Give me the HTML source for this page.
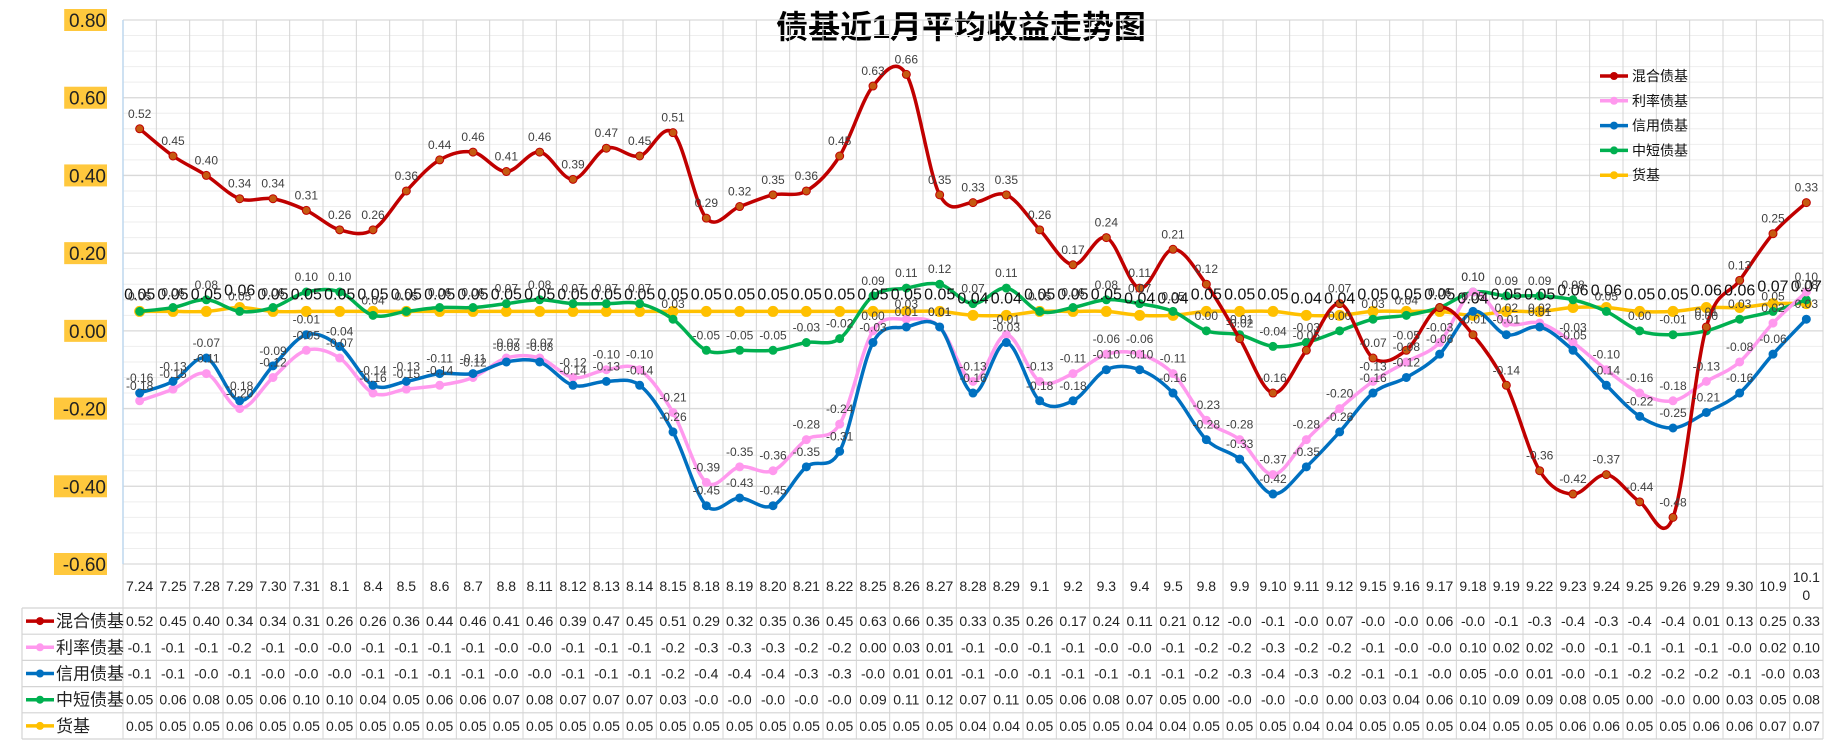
<!DOCTYPE html>
<html><head><meta charset="utf-8">
<style>
html,body{margin:0;padding:0;background:#fff;}
body{width:1838px;height:743px;overflow:hidden;font-family:"Liberation Sans","Noto Sans CJK SC",sans-serif;}
svg{display:block;}
</style></head>
<body>
<svg id="chart" width="1838" height="743" xmlns="http://www.w3.org/2000/svg">
<text x="961" y="38" text-anchor="middle" font-size="32" font-weight="bold" font-family="Liberation Sans, Noto Sans CJK SC, sans-serif" fill="#000">债基近1月平均收益走势图</text>
</svg>
<script>
const categories=["7.24","7.25","7.28","7.29","7.30","7.31","8.1","8.4","8.5","8.6","8.7","8.8","8.11","8.12","8.13","8.14","8.15","8.18","8.19","8.20","8.21","8.22","8.25","8.26","8.27","8.28","8.29","9.1","9.2","9.3","9.4","9.5","9.8","9.9","9.10","9.11","9.12","9.15","9.16","9.17","9.18","9.19","9.22","9.23","9.24","9.25","9.26","9.29","9.30","10.9","10.10"];
const mixed=[0.52,0.45,0.40,0.34,0.34,0.31,0.26,0.26,0.36,0.44,0.46,0.41,0.46,0.39,0.47,0.45,0.51,0.29,0.32,0.35,0.36,0.45,0.63,0.66,0.35,0.33,0.35,0.26,0.17,0.24,0.11,0.21,0.12,-0.02,-0.16,-0.05,0.07,-0.07,-0.05,0.06,-0.01,-0.14,-0.36,-0.42,-0.37,-0.44,-0.48,0.01,0.13,0.25,0.33];
const rate=[-0.18,-0.15,-0.11,-0.20,-0.12,-0.05,-0.07,-0.16,-0.15,-0.14,-0.12,-0.07,-0.07,-0.12,-0.10,-0.10,-0.21,-0.39,-0.35,-0.36,-0.28,-0.24,0.00,0.03,0.01,-0.13,-0.01,-0.13,-0.11,-0.06,-0.06,-0.11,-0.23,-0.28,-0.37,-0.28,-0.20,-0.13,-0.08,-0.03,0.10,0.02,0.02,-0.03,-0.10,-0.16,-0.18,-0.13,-0.08,0.02,0.10];
const credit=[-0.16,-0.13,-0.07,-0.18,-0.09,-0.01,-0.04,-0.14,-0.13,-0.11,-0.11,-0.08,-0.08,-0.14,-0.13,-0.14,-0.26,-0.45,-0.43,-0.45,-0.35,-0.31,-0.03,0.01,0.01,-0.16,-0.03,-0.18,-0.18,-0.10,-0.10,-0.16,-0.28,-0.33,-0.42,-0.35,-0.26,-0.16,-0.12,-0.06,0.05,-0.01,0.01,-0.05,-0.14,-0.22,-0.25,-0.21,-0.16,-0.06,0.03];
const shortTerm=[0.05,0.06,0.08,0.05,0.06,0.10,0.10,0.04,0.05,0.06,0.06,0.07,0.08,0.07,0.07,0.07,0.03,-0.05,-0.05,-0.05,-0.03,-0.02,0.09,0.11,0.12,0.07,0.11,0.05,0.06,0.08,0.07,0.05,0.00,-0.01,-0.04,-0.03,0.00,0.03,0.04,0.06,0.10,0.09,0.09,0.08,0.05,0.00,-0.01,0.00,0.03,0.05,0.08];
const money=[0.05,0.05,0.05,0.06,0.05,0.05,0.05,0.05,0.05,0.05,0.05,0.05,0.05,0.05,0.05,0.05,0.05,0.05,0.05,0.05,0.05,0.05,0.05,0.05,0.05,0.04,0.04,0.05,0.05,0.05,0.04,0.04,0.05,0.05,0.05,0.04,0.04,0.05,0.05,0.05,0.04,0.05,0.05,0.06,0.06,0.05,0.05,0.06,0.06,0.07,0.07];
const seriesNames=["混合债基","利率债基","信用债基","中短债基","货基"];
const yTicks=[0.8,0.6,0.4,0.2,0,-0.2,-0.4,-0.6];

const svg=document.getElementById('chart');
const NS="http://www.w3.org/2000/svg";
const plotL=123,plotR=1823,plotT=20,plotB=564,yMax=0.8,yMin=-0.6;
const colW=(plotR-plotL)/categories.length;
function xPos(i){return plotL+colW*(i+0.5);}
function yPos(v){return plotT+(yMax-v)/(yMax-yMin)*(plotB-plotT);}
function mk(tag,attrs){const e=document.createElementNS(NS,tag);for(const k in attrs)e.setAttribute(k,attrs[k]);return e;}
const font='Liberation Sans, Noto Sans CJK SC, sans-serif';

for(let v=yMin;v<=yMax+1e-9;v+=0.04){
  const l=mk('line',{x1:plotL,x2:plotR,y1:yPos(v),y2:yPos(v),stroke:'#eeeeee','stroke-width':1});
  
  
  svg.appendChild(l);
}
yTicks.forEach(v=>{
  const y=yPos(v);
  const l=mk('line',{x1:plotL,x2:plotR,y1:y,y2:y,stroke:'#d9d9d9','stroke-width':1.3});
  
  
  svg.appendChild(l);
  const txt=v.toFixed(2);
  const w=txt.length*10.2+2;
  const r=mk('rect',{x:107-w,y:y-11,width:w,height:22,fill:'#ffc83d'});
  
  
  svg.appendChild(r);
  const t=mk('text',{x:106,y:y+7,'text-anchor':'end','font-size':19,fill:'#222','font-family':font});
  t.textContent=txt;
  
  
  svg.appendChild(t);
});
for(let i=0;i<=categories.length;i++){
  const x=plotL+colW*i;
  const l=mk('line',{x1:x,x2:x,y1:plotT,y2:739,stroke:'#d4d4d4','stroke-width':1});
  
  
  svg.appendChild(l);
}
const ax=mk('line',{x1:plotL,x2:plotL,y1:plotT,y2:plotB,stroke:'#bdd7ee','stroke-width':1.5});


svg.appendChild(ax);

categories.forEach((c,i)=>{
  const t=mk('text',{x:xPos(i),y:591,'text-anchor':'middle','font-size':14,fill:'#222','font-family':font});
  if(c.length>4){t.setAttribute('y',582);
    const a=mk('tspan',{x:xPos(i)});a.textContent=c.slice(0,4);
    const b=mk('tspan',{x:xPos(i),dy:18});b.textContent=c.slice(4);
    t.appendChild(a);t.appendChild(b);
  } else t.textContent=c;
  
  
  svg.appendChild(t);
});

function smoothPath(vals){
  const p=vals.map((v,i)=>[xPos(i),yPos(v)]);
  let d='M'+p[0][0]+','+p[0][1];
  for(let i=0;i<p.length-1;i++){
    const p0=p[i-1]||p[i],p1=p[i],p2=p[i+1],p3=p[i+2]||p2;
    const t=1/6;
    const c1=[p1[0]+(p2[0]-p0[0])*t,p1[1]+(p2[1]-p0[1])*t];
    const c2=[p2[0]-(p3[0]-p1[0])*t,p2[1]-(p3[1]-p1[1])*t];
    d+=' C'+c1.join(',')+' '+c2.join(',')+' '+p2.join(',');
  }
  return d;
}
const series=[
  {vals:money,color:'#ffc000',name:'money-fund',mcolor:'#ffc000',big:true},
  {vals:shortTerm,color:'#00b050',name:'short-term-bond',mcolor:'#00b050'},
  {vals:rate,color:'#ff99ee',name:'rate-bond',mcolor:'#ff99ee'},
  {vals:credit,color:'#0070c0',name:'credit-bond',mcolor:'#0070c0'},
  {vals:mixed,color:'#c00000',name:'mixed-bond',mcolor:'#c55a11'}
];
series.forEach(s=>{
  const g=mk('g',{});
  
  
  const path=mk('path',{d:smoothPath(s.vals),fill:'none',stroke:s.color,'stroke-width':3.5,'stroke-linejoin':'round'});
  
  
  g.appendChild(path);
  s.vals.forEach((v,i)=>{
    const c=mk('circle',{cx:xPos(i),cy:yPos(v),r:s.big?5:4,fill:s.mcolor,stroke:s.color,'stroke-width':1});
    
    
    g.appendChild(c);
  });
  svg.appendChild(g);
});
series.forEach(s=>{
  s.vals.forEach((v,i)=>{
    const t=mk('text',{x:xPos(i),y:yPos(v)-(s.big?12:11),'text-anchor':'middle','font-size':s.big?16:12,fill:s.big?'#111':'#404040','font-family':font});
    t.textContent=v.toFixed(2);
    
    
    svg.appendChild(t);
  });
});

const legendColors=['#c00000','#ff99ee','#0070c0','#00b050','#ffc000'];
seriesNames.forEach((n,k)=>{
  const y=76+k*24.8;
  const g=mk('g',{});
  
  
  g.appendChild(mk('line',{x1:1600,x2:1628,y1:y,y2:y,stroke:legendColors[k],'stroke-width':3.5}));
  g.appendChild(mk('circle',{cx:1614,cy:y,r:4,fill:legendColors[k]}));
  const t=mk('text',{x:1632,y:y+5,'font-size':14,fill:'#111','font-family':font});
  t.textContent=n;
  g.appendChild(t);
  svg.appendChild(g);
});

const tableVals=[mixed,rate,credit,shortTerm,money];
const rowT=608,rowH=26.2,tabL=22;
for(let r=0;r<=5;r++){
  const y=rowT+r*rowH;
  const l=mk('line',{x1:tabL,x2:plotR,y1:y,y2:y,stroke:'#d4d4d4','stroke-width':1.2});
  
  
  svg.appendChild(l);
}
const lb=mk('line',{x1:tabL,x2:tabL,y1:rowT,y2:rowT+5*rowH,stroke:'#d4d4d4','stroke-width':1.2});


svg.appendChild(lb);
tableVals.forEach((arr,r)=>{
  const cy=rowT+r*rowH+rowH/2;
  const g=mk('g',{});
  
  
  g.appendChild(mk('line',{x1:26,x2:54,y1:cy,y2:cy,stroke:legendColors[r],'stroke-width':3.5}));
  g.appendChild(mk('circle',{cx:40,cy:cy,r:4,fill:legendColors[r]}));
  const h=mk('text',{x:56,y:cy+6,'font-size':17,fill:'#222','font-family':font});
  h.textContent=seriesNames[r];
  g.appendChild(h);
  svg.appendChild(g);
  arr.forEach((v,i)=>{
    const t=mk('text',{x:xPos(i),y:cy+5,'text-anchor':'middle','font-size':14,fill:'#222','font-family':font});
    t.textContent=v.toFixed(2).slice(0,4);
    
    
    svg.appendChild(t);
  });
});
</script>
</body></html>
